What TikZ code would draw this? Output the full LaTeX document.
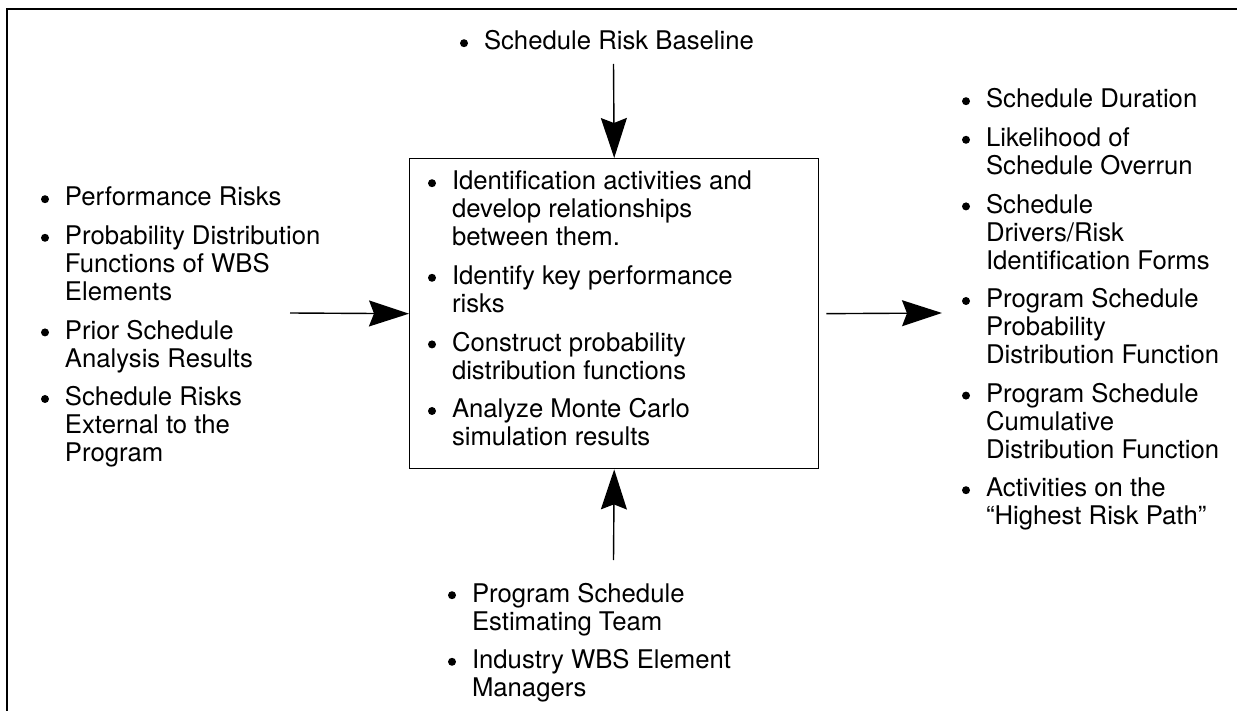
\documentclass[tikz,border=0pt]{standalone}
\usepackage{fontspec}
\setmainfont{TeX Gyre Heros}
\usetikzlibrary{arrows.meta}
\newcommand{\bdot}{\tikz[baseline=0pt]\fill (4pt,6.8pt) circle (4pt);}
\newcommand{\bitem}[1]{\par\hangindent=24pt\hangafter=1\noindent\makebox[24pt][l]{\bdot}#1}
\newenvironment{blist}[1]{\begin{minipage}[t]{#1}\fontsize{25.7pt}{28pt}\selectfont\parindent=0pt\parskip=10.6pt\rightskip=0pt plus 1fil\relax}{\par\end{minipage}}
\tikzset{
  arr/.style={line width=1.4pt, -{Stealth[length=40pt,width=26pt,inset=5pt]}},
  lst/.style={anchor=base west, inner sep=0pt, outer sep=0pt},
  frame/.style={line width=2pt},
  procbox/.style={draw, line width=1.4pt, inner sep=0pt, anchor=north west, minimum width=409pt, minimum height=310pt}
}
\begin{document}
\begin{tikzpicture}[x=1pt,y=-1pt]
\useasboundingbox (0,0) rectangle (1237,711);
\draw[frame] (7,711) -- (7,9.5) -- (1237,9.5);

\node[procbox] (box) at (409,158) {};

\node[lst] (toptxt) at (460,50) {\begin{blist}{400pt}\bitem{Schedule Risk Baseline}\end{blist}};

\node[lst] (boxtxt) at (428,190) {\begin{blist}{380pt}%
\bitem{Identification activities and\\develop relationships\\between them.}
\bitem{Identify key performance\\risks}
\bitem{Construct probability\\distribution functions}
\bitem{Analyze Monte Carlo\\simulation results}\end{blist}};

\node[lst] (lefttxt) at (41,206) {\begin{blist}{300pt}%
\bitem{Performance Risks}
\bitem{Probability Distribution\\Functions of WBS\\Elements}
\bitem{Prior Schedule\\Analysis Results}
\bitem{Schedule Risks\\External to the\\Program}\end{blist}};

\node[lst] (righttxt) at (962,108) {\begin{blist}{300pt}%
\bitem{Schedule Duration}
\bitem{Likelihood of\\Schedule Overrun}
\bitem{Schedule\\Drivers/Risk\\Identification Forms}
\bitem{Program Schedule\\Probability\\Distribution Function}
\bitem{Program Schedule\\Cumulative\\Distribution Function}
\bitem{Activities on the\\“Highest Risk Path”}\end{blist}};

\node[lst] (bottxt) at (448,602) {\begin{blist}{400pt}%
\bitem{Program Schedule\\Estimating Team}
\bitem{Industry WBS Element\\Managers}\end{blist}};

\coordinate (tstart) at (613.5,64);
\coordinate (bstart) at (613.5,560);
\coordinate (lstart) at (290,313);
\coordinate (rend) at (942,313);

\draw[arr] (tstart) -- (box.north);
\draw[arr] (bstart) -- (box.south);
\draw[arr] (lstart) -- (box.west);
\draw[arr, shorten <=7pt] (box.east) -- (rend);
\end{tikzpicture}
\end{document}
